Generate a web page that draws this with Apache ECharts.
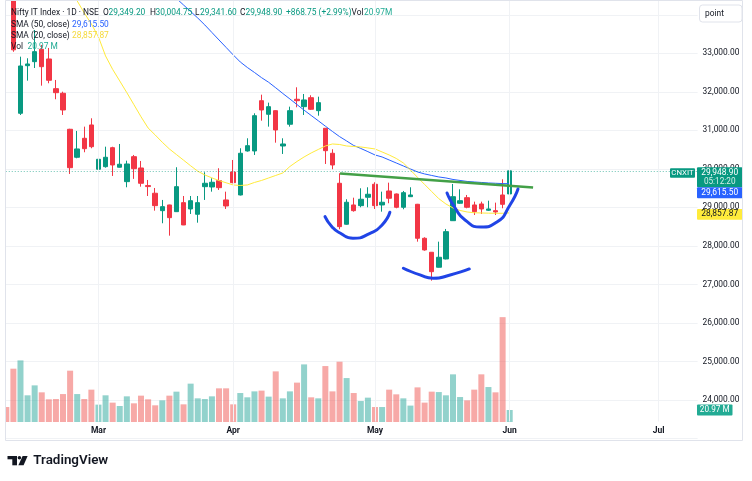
<!DOCTYPE html>
<html>
<head>
<meta charset="utf-8">
<title>Nifty IT Index · 1D</title>
<script src="https://cdn.jsdelivr.net/npm/echarts@6/dist/echarts.min.js"></script>
<style>
  html, body { margin: 0; padding: 0; background: #fff; }
  #chart { width: 752px; height: 481px; }
</style>
</head>
<body>
<div id="chart"></div>
<script>
// trading days shown (2026), plus the empty future bars up to early July
const febDays = [11, 12, 13, 16, 17, 18, 19, 20, 23, 24, 25, 26, 27]
const marDays = [2, 4, 5, 6, 9, 10, 11, 12, 13, 16, 17, 18, 19, 20, 23, 24, 25, 27, 30]
const aprDays = [1, 2, 6, 7, 8, 9, 10, 13, 15, 16, 17, 20, 21, 22, 23, 24, 27, 28, 29, 30]
const mayDays = [4, 5, 6, 7, 8, 11, 12, 13, 14, 15, 18, 19, 20, 21, 22, 25, 26, 27, 29]
const junDays = [1, 2, 3, 4, 5, 8, 9, 10, 11, 12, 15, 16, 17, 18, 19, 22, 23, 24, 25, 29, 30]
const julDays = [1, 2, 3, 6, 7, 8]
const monthNames = { '03': 'Mar', '04': 'Apr', '05': 'May', '06': 'Jun', '07': 'Jul' }

// daily OHLC
const open = [35150, 34760, 31443, 32679, 32783, 33105, 32853, 32082, 31963, 31028,
  30301, 30794, 31140, 29990, 30057, 30550, 30042, 29668, 30317, 30023,
  29566, 29367, 28915, 29063, 28889, 29123, 28959, 28821, 29538, 29530,
  29694, 29193, 29920, 29322, 30465, 30465, 31770, 31417, 31511, 30594,
  31158, 31807, 31615, 31848, 31511, 31054, 30405, 29626, 28562, 29063,
  29045, 29263, 29600, 29063, 29426, 29348, 29003, 29278, 29081, 28198,
  27835, 27446, 27661, 28655, 29107, 29252, 29063, 29089, 28925, 28915,
  29322, 29349.20]
const high = [35300, 34820, 32913, 32871, 33606, 33216, 33139, 32308, 32004, 31040,
  30984, 31096, 31313, 30576, 30576, 30575, 30646, 30213, 30361, 30205,
  29712, 29504, 29193, 29070, 30042, 29296, 29296, 29296, 29912, 29756,
  30016, 29408, 30231, 30535, 30794, 31443, 31926, 31719, 31520, 30794,
  31615, 32118, 31944, 31911, 31874, 31060, 30509, 29886, 29211, 29252,
  29496, 29522, 29652, 29408, 29642, 29360, 29426, 29522, 29090, 28224,
  27840, 28110, 28440, 29608, 29470, 29322, 29149, 29149, 29174, 29123,
  29730, 30004.75]
const low = [34650, 33040, 31399, 32290, 32619, 32160, 32222, 31807, 31399, 29868,
  30275, 30431, 30535, 29886, 30031, 29816, 30035, 29522, 29740, 29538,
  29296, 28915, 28588, 28266, 28880, 28540, 28829, 28603, 29193, 29408,
  29452, 28959, 29626, 29310, 30447, 30361, 31251, 31096, 30680, 30387,
  31096, 31599, 31399, 31529, 31381, 30127, 29990, 28432, 28550, 28889,
  29003, 29003, 28959, 28889, 29107, 28977, 28951, 29270, 28110, 27876,
  27098, 27440, 27650, 28650, 29089, 28977, 28803, 28829, 28907, 28803,
  28977, 29341.60]
const close = [34780, 33090, 32671, 32723, 33043, 32653, 32300, 31978, 31529, 30031,
  30517, 30524, 30576, 30249, 30301, 30101, 30120, 30127, 30005, 29626,
  29540, 29045, 29019, 28733, 29538, 28544, 29174, 29123, 29626, 29652,
  29512, 29037, 29642, 30405, 30602, 31381, 31529, 31615, 31010, 30646,
  31511, 31770, 31789, 31547, 31719, 30472, 30101, 28500, 29133, 28915,
  29211, 29341, 29045, 29133, 29237, 29003, 29382, 29322, 28198, 27895,
  27331, 27705, 28370, 29278, 29174, 29003, 28889, 28959, 28959, 28881,
  29080, 29948.90]
// volume, millions
const volume = [26.2, 93.3, 107.8, 46.7, 64.1, 51.9, 39.7, 40.2, 48.9, 89.8,
  48.9, 40.2, 56.6, 30.4, 46.7, 33.9, 28.0, 44.9, 32.7, 46.1,
  39.7, 29.2, 37.9, 46.1, 53.1, 30.9, 67.1, 41.4, 40.2, 44.9,
  58.9, 58.9, 30.9, 50.7, 43.2, 53.6, 54.9, 44.4, 88.6, 41.4,
  53.6, 68.9, 100.8, 43.2, 41.4, 97.9, 53.6, 105.5, 76.9, 50.7,
  36.7, 42.6, 26.2, 26.2, 56.6, 48.4, 41.4, 28.7, 60.6, 33.9,
  53.1, 52.4, 46.7, 83.4, 43.7, 37.9, 56.6, 83.4, 61.2, 51.9,
  183.5, 20.97]
// moving averages
const sma50 = [null, null, null, null, null, null, null, null, null, null,
  null, null, null, null, null, null, null, null, null, null,
  null, null, 34750, 34593, 34424, 34254, 34086, 33917, 33736, 33541,
  33346, 33153, 32960, 32775, 32632, 32503, 32368, 32248, 32105, 31957,
  31815, 31669, 31524, 31386, 31249, 31109, 30971, 30838, 30724, 30607,
  30530, 30447, 30361, 30309, 30231, 30153, 30075, 29997, 29920, 29868,
  29829, 29790, 29764, 29725, 29699, 29673, 29660, 29647, 29634, 29626,
  29618, 29615.50]
const sma20 = [null, null, null, null, null, null, null, null, null, 34620,
  34360, 34047, 33762, 33424, 32931, 32583, 32282, 31978, 31667, 31353,
  31062, 30880, 30691, 30517, 30371, 30226, 30080, 29940, 29842, 29766,
  29697, 29639, 29582, 29569, 29582, 29647, 29699, 29764, 29829, 29894,
  30062, 30192, 30309, 30413, 30504, 30594, 30646, 30633, 30594, 30581,
  30569, 30543, 30517, 30439, 30361, 30270, 30153, 29971, 29779, 29595,
  29411, 29226, 29089, 28985, 28920, 28881, 28860, 28855, 28850, 28847,
  28847, 28857.87]
// hand drawn annotations, [bar index, price]
const trendLine = [[47.07, 29881], [74.3, 29517]]
const leftArc = [[44.95, 28759], [45.95, 28492], [47.07, 28336], [48.9, 28198], [51.3, 28328], [53.0, 28544], [54.1, 28873]]
const midArc = [[56.0, 27420], [58.35, 27246], [60.2, 27160], [62.6, 27246], [65.3, 27401]]
const rightArc = [[62.16, 29374], [63.3, 28985], [64.7, 28673], [66.95, 28492], [69.2, 28622], [71.04, 29063], [72.17, 29478]]
const priceTicks = [24000, 25000, 26000, 27000, 28000, 29000, 30000, 31000, 32000, 33000]

const pad = d => String(d).padStart(2, '0')
const dates = [].concat(
  febDays.map(d => '2026-02-' + pad(d)),
  marDays.map(d => '2026-03-' + pad(d)),
  aprDays.map(d => '2026-04-' + pad(d)),
  mayDays.map(d => '2026-05-' + pad(d)),
  junDays.map(d => '2026-06-' + pad(d)),
  julDays.map(d => '2026-07-' + pad(d))
)
const N = dates.length
const monthStarts = dates.map((d, i) => (i > 0 && d.slice(5, 7) !== dates[i - 1].slice(5, 7)) ? i : -1).filter(i => i >= 0)

const UP = '#089981'
const DOWN = '#f23645'
const DARK = '#131722'
const FONT = 'Roboto'

const candles = open.map((o, i) => [o, close[i], low[i], high[i]])
const volData = volume.map((v, i) => ({
  value: v,
  itemStyle: { color: close[i] >= open[i] ? 'rgba(38,166,154,0.5)' : 'rgba(239,83,80,0.5)' }
}))
const last = close.length - 1

const chart = echarts.init(document.getElementById('chart'))

chart.setOption({
  animation: false,
  backgroundColor: '#fff',
  textStyle: { fontFamily: FONT },
  grid: [
    { left: 2.75, right: 54.4, top: 0, bottom: 42.5 },
    { left: 2.75, right: 54.4, top: 302, bottom: 59 }
  ],
  xAxis: [
    { type: 'category', gridIndex: 0, data: dates, show: false },
    {
      type: 'category', gridIndex: 1, data: dates,
      axisLine: { show: false }, axisTick: { show: false }, splitLine: { show: false },
      axisLabel: {
        interval: (i) => monthStarts.includes(i),
        formatter: (v) => monthNames[v.slice(5, 7)] || '',
        margin: 4, fontSize: 8.5, fontWeight: 'bold', color: DARK, fontFamily: FONT
      }
    },
    { type: 'value', gridIndex: 0, min: -0.5, max: N - 0.5, show: false }
  ],
  yAxis: [
    {
      type: 'value', gridIndex: 0, position: 'right', min: 23000, max: 34384, interval: 1000,
      axisLine: { show: false }, axisTick: { show: false },
      splitLine: { lineStyle: { color: '#f0f2f5', width: 1 } },
      axisLabel: {
        margin: 5, fontSize: 8.4, color: DARK, fontFamily: FONT,
        showMinLabel: false, showMaxLabel: false,
        formatter: (v) => priceTicks.includes(v)
          ? v.toLocaleString('en-US', { minimumFractionDigits: 2, maximumFractionDigits: 2 }) : ''
      }
    },
    { type: 'value', gridIndex: 1, min: 0, max: 210, show: false }
  ],
  series: [
    {
      // month gridlines
      type: 'line', xAxisIndex: 2, yAxisIndex: 0, z: 0, silent: true,
      data: [[0, 23000]], symbol: 'none', lineStyle: { opacity: 0 },
      markLine: {
        symbol: 'none', silent: true, label: { show: false },
        lineStyle: { color: '#f0f2f5', width: 1, type: 'solid' },
        data: monthStarts.map(i => [{ coord: [i, 34384] }, { coord: [i, 23440] }])
      }
    },
    {
      name: 'Vol', type: 'bar', xAxisIndex: 1, yAxisIndex: 1, z: 1,
      barWidth: 6, data: volData
    },
    {
      name: 'CNXIT', type: 'candlestick', xAxisIndex: 0, yAxisIndex: 0, z: 3,
      barWidth: 5, data: candles,
      itemStyle: { color: UP, color0: DOWN, borderColor: UP, borderColor0: DOWN, borderWidth: 1 },
      markLine: {
        symbol: 'none', silent: true, label: { show: false },
        lineStyle: { type: [1, 2], color: UP, width: 1, opacity: 0.6 },
        data: [{ yAxis: close[last] }]
      }
    },
    {
      name: 'SMA 50', type: 'line', xAxisIndex: 0, yAxisIndex: 0, z: 4,
      data: sma50, symbol: 'none', lineStyle: { color: '#2962ff', width: 1 }
    },
    {
      name: 'SMA 20', type: 'line', xAxisIndex: 0, yAxisIndex: 0, z: 4,
      data: sma20, symbol: 'none', lineStyle: { color: '#ffeb3b', width: 1 }
    },
    {
      type: 'line', xAxisIndex: 2, yAxisIndex: 0, z: 5, data: trendLine,
      symbol: 'none', lineStyle: { color: '#43a047', width: 2.5 }
    },
    ...[leftArc, midArc, rightArc].map(arc => ({
      type: 'line', xAxisIndex: 2, yAxisIndex: 0, z: 5, data: arc, smooth: 0.6,
      symbol: 'none', lineStyle: { color: '#2044e6', width: 3, cap: 'round' }
    }))
  ]
})

// legend, tags and frame
const fmt = v => v.toLocaleString('en-US', { minimumFractionDigits: 2, maximumFractionDigits: 2 })
const yP = v => chart.convertToPixel({ yAxisIndex: 0 }, v)
const yV = v => chart.convertToPixel({ yAxisIndex: 1 }, v)

const txt = (x, y, text, fill, size, extra) => ({
  type: 'text', x, y, z: 20,
  style: Object.assign({ text, fill, fontSize: size || 8.4, fontFamily: FONT, verticalAlign: 'middle', align: 'left' }, extra || {})
})
const box = (x, y, w, h, fill) => ({ type: 'rect', z: 19, shape: { x, y, width: w, height: h, r: 1 }, style: { fill } })

const legend = [
  txt(11, 13.3, 'Nifty IT Index · 1D · NSE', DARK),
  txt(103, 13.3, 'O', DARK), txt(108.5, 13.3, fmt(open[last]), UP),
  txt(150, 13.3, 'H', DARK), txt(155.5, 13.3, fmt(high[last]), UP),
  txt(195, 13.3, 'L', DARK), txt(200, 13.3, fmt(low[last]), UP),
  txt(240, 13.3, 'C', DARK), txt(245.5, 13.3, fmt(close[last]), UP),
  txt(286, 13.3, '+868.75 (+2.99%)', UP),
  txt(351.5, 13.3, 'Vol', DARK), txt(364, 13.3, volume[last].toFixed(2) + 'M', '#22ab94'),
  txt(11, 25, 'SMA (50, close)', DARK), txt(72, 25, fmt(sma50[last]), '#2962ff'),
  txt(11, 35.7, 'SMA (20, close)', DARK), txt(72, 35.7, fmt(sma20[last]), '#f5d93a'),
  txt(11, 46.7, 'Vol', DARK), txt(27.5, 46.7, volume[last].toFixed(2) + ' M', '#22ab94')
]

const yc = yP(close[last])
const y50 = yc + 21.8
const y20 = yP(sma20[last])
const yv = yV(volume[last])
const tags = [
  box(670, yc - 2.6, 25, 9.6, UP), txt(682.5, yc + 2.2, 'CNXIT', '#fff', 7.8, { align: 'center' }),
  box(697, yc - 3.5, 45.5, 20, UP),
  txt(719.7, yc + 1.7, fmt(close[last]), '#fff', 8.4, { align: 'center' }),
  txt(719.7, yc + 11.3, '05:12:20', '#d5efe9', 8.2, { align: 'center' }),
  box(697, y50 - 5.4, 45.5, 11, '#2962ff'), txt(719.7, y50, fmt(sma50[last]), '#fff', 8.4, { align: 'center' }),
  box(697, y20 - 3.8, 45.5, 10.6, '#ffeb3b'), txt(719.7, y20 + 1.4, fmt(sma20[last]), DARK, 8.4, { align: 'center' }),
  box(697, yv - 5.6, 35.5, 11, '#22ab94'), txt(714.7, yv, volume[last].toFixed(2) + ' M', '#fff', 8.2, { align: 'center' })
]

const frame = [
  { type: 'rect', z: 18, shape: { x: 0, y: 0, width: 5.5, height: 481 }, style: { fill: '#fff' } },
  { type: 'rect', z: 18, shape: { x: 0, y: 440.5, width: 752, height: 41 }, style: { fill: '#fff' } },
  { type: 'rect', z: 21, shape: { x: 5.5, y: 0.5, width: 737, height: 440 }, style: { fill: 'none', stroke: '#e0e3eb', lineWidth: 1 } },
  { type: 'rect', z: 21, shape: { x: 699.5, y: 5, width: 42.5, height: 17, r: 3 }, style: { fill: '#fff', stroke: '#e0e3eb', lineWidth: 1 } },
  Object.assign(txt(705, 13.6, 'point', DARK, 8.4), { z: 22 }),
  // TradingView mark
  { type: 'rect', z: 21, shape: { x: 7.5, y: 456, width: 9.5, height: 3.3 }, style: { fill: DARK } },
  { type: 'rect', z: 21, shape: { x: 12.3, y: 456, width: 4.7, height: 9.3 }, style: { fill: DARK } },
  { type: 'circle', z: 21, shape: { cx: 19.4, cy: 457.8, r: 1.8 }, style: { fill: DARK } },
  { type: 'polygon', z: 21, shape: { points: [[22.6, 456], [27.6, 456], [23.6, 465.3], [18.4, 465.3]] }, style: { fill: DARK } },
  txt(33.3, 461, 'TradingView', DARK, 13.4, { fontWeight: 600 })
]

chart.setOption({ graphic: legend.concat(tags, frame) })
</script>
</body>
</html>
